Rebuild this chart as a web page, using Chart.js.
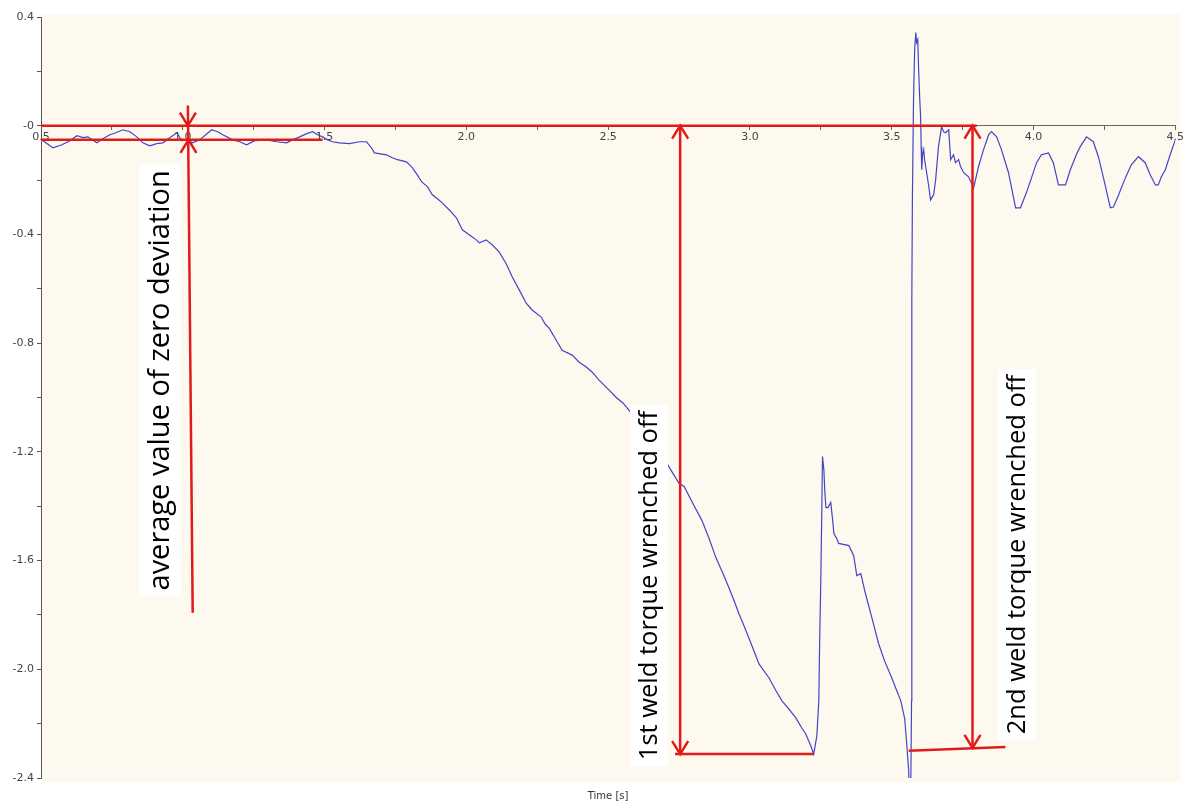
<!DOCTYPE html>
<html>
<head>
<meta charset="utf-8">
<title>Weld torque test</title>
<script src="https://cdn.jsdelivr.net/npm/chart.js@4/dist/chart.umd.min.js"></script>
<style>
  body { margin: 0; background: #fff; }
  #wrap { width: 1185px; height: 805px; }
</style>
</head>
<body>
<div id="wrap"><canvas id="chart"></canvas></div>
<script>
// Torque trace (time in s)
const timeValues = [
  0.502, 0.542, 0.574, 0.602, 0.627, 0.648, 0.665, 0.697, 0.718, 0.743,
  0.764, 0.789, 0.813, 0.838, 0.859, 0.884, 0.908, 0.930, 0.954, 0.979,
  0.996, 1.014, 1.035, 1.060, 1.081, 1.102, 1.123, 1.141, 1.176, 1.201,
  1.225, 1.254, 1.296, 1.331, 1.366, 1.387, 1.412, 1.437, 1.458, 1.475,
  1.493, 1.511, 1.528, 1.553, 1.588, 1.623, 1.648, 1.665, 1.676, 1.718,
  1.739, 1.757, 1.789, 1.810, 1.827, 1.842, 1.863, 1.880, 1.898, 1.915,
  1.940, 1.965, 1.986, 2.011, 2.035, 2.046, 2.070, 2.092, 2.116, 2.141,
  2.162, 2.187, 2.211, 2.232, 2.264, 2.278, 2.292, 2.313, 2.338, 2.373,
  2.398, 2.423, 2.444, 2.468, 2.493, 2.528, 2.553, 2.574, 2.609, 2.644,
  2.687, 2.722, 2.750, 2.768, 2.799, 2.831, 2.856, 2.880, 2.905, 2.926,
  2.944, 2.961, 2.979, 2.996, 3.014, 3.032, 3.067, 3.092, 3.113, 3.137,
  3.162, 3.183, 3.197, 3.215, 3.225, 3.236, 3.243, 3.246, 3.250, 3.254,
  3.256, 3.261, 3.264, 3.268, 3.275, 3.285, 3.292, 3.296, 3.306, 3.313,
  3.349, 3.366, 3.377, 3.391, 3.405, 3.430, 3.454, 3.475, 3.500, 3.518,
  3.532, 3.546, 3.553, 3.560, 3.562, 3.567, 3.570, 3.571, 3.573, 3.577,
  3.581, 3.585, 3.588, 3.592, 3.595, 3.599, 3.602, 3.604, 3.606, 3.609,
  3.613, 3.616, 3.620, 3.630, 3.637, 3.648, 3.655, 3.665, 3.676, 3.683,
  3.690, 3.701, 3.708, 3.718, 3.725, 3.736, 3.743, 3.754, 3.771, 3.789,
  3.806, 3.824, 3.842, 3.852, 3.870, 3.887, 3.912, 3.937, 3.954, 3.975,
  3.993, 4.011, 4.028, 4.053, 4.070, 4.088, 4.113, 4.130, 4.151, 4.165,
  4.187, 4.211, 4.229, 4.250, 4.271, 4.282, 4.299, 4.324, 4.345, 4.370,
  4.394, 4.412, 4.430, 4.440, 4.451, 4.465, 4.482, 4.500
];
const torqueValues = [
  -0.052, -0.081, -0.070, -0.055, -0.037, -0.044, -0.041, -0.063, -0.048, -0.033,
  -0.026, -0.015, -0.022, -0.041, -0.063, -0.074, -0.066, -0.063, -0.044, -0.026,
  -0.055, -0.052, -0.063, -0.052, -0.033, -0.015, -0.022, -0.033, -0.052, -0.059,
  -0.070, -0.055, -0.052, -0.059, -0.063, -0.052, -0.041, -0.029, -0.022, -0.033,
  -0.041, -0.052, -0.059, -0.063, -0.066, -0.059, -0.059, -0.081, -0.100, -0.107,
  -0.118, -0.125, -0.133, -0.155, -0.181, -0.206, -0.225, -0.254, -0.269, -0.284,
  -0.310, -0.339, -0.383, -0.402, -0.420, -0.431, -0.420, -0.439, -0.465, -0.509,
  -0.557, -0.605, -0.653, -0.678, -0.704, -0.730, -0.745, -0.782, -0.826, -0.844,
  -0.870, -0.888, -0.907, -0.936, -0.962, -0.999, -1.021, -1.047, -1.102, -1.158,
  -1.206, -1.268, -1.316, -1.327, -1.390, -1.453, -1.519, -1.589, -1.648, -1.700,
  -1.747, -1.795, -1.840, -1.884, -1.932, -1.980, -2.031, -2.079, -2.116, -2.146,
  -2.179, -2.216, -2.238, -2.282, -2.312, -2.245, -2.116, -1.895, -1.674, -1.379,
  -1.217, -1.268, -1.342, -1.405, -1.405, -1.386, -1.453, -1.500, -1.519, -1.537,
  -1.545, -1.582, -1.655, -1.648, -1.711, -1.810, -1.906, -1.969, -2.031, -2.079,
  -2.116, -2.182, -2.275, -2.374, -2.485, -2.485, -2.116, -0.641, -0.273, 0.096,
  0.280, 0.343, 0.306, 0.317, 0.206, 0.096, 0.033, -0.077, -0.162, -0.107,
  -0.088, -0.125, -0.151, -0.218, -0.273, -0.254, -0.199, -0.077, -0.004, -0.022,
  -0.026, -0.015, -0.125, -0.107, -0.136, -0.125, -0.151, -0.173, -0.188, -0.229,
  -0.151, -0.088, -0.033, -0.022, -0.041, -0.088, -0.173, -0.302, -0.302, -0.247,
  -0.192, -0.136, -0.107, -0.100, -0.136, -0.218, -0.218, -0.162, -0.107, -0.077,
  -0.041, -0.059, -0.114, -0.206, -0.302, -0.299, -0.258, -0.192, -0.144, -0.114,
  -0.136, -0.181, -0.218, -0.218, -0.188, -0.162, -0.107, -0.052
];

// tick labels, major ticks only (minor ticks get no text)
const xTickLabels = ['0.5', '1.0', '1.5', '2.0', '2.5', '3.0', '3.5', '4.0', '4.5'];
const yTickLabels = ['-2.4', '-2.0', '-1.6', '-1.2', '-0.8', '-0.4', '-0', '0.4'];

// red markup, in data units: [t1, v1, t2, v2]
const markupLines = [
  [0.5, 0, 3.80, 0],
  [0.5, -0.052, 1.493, -0.052],
  [1.018, 0.074, 1.035, -1.792],
  [2.754, 0, 2.754, -2.312],
  [2.736, -2.312, 3.225, -2.312],
  [3.785, 0, 3.785, -2.289],
  [3.560, -2.300, 3.901, -2.286]
];
// arrow tips: [t, v, direction]
const markupArrows = [
  [1.018, 0, 'down'],
  [1.020, -0.052, 'up'],
  [2.754, 0, 'up'],
  [2.754, -2.312, 'down'],
  [3.785, 0, 'up'],
  [3.785, -2.289, 'down']
];
// rotated notes, centred on [t, v]
const noteTexts = ['average value of zero deviation', '1st weld torque wrenched off', '2nd weld torque wrenched off'];
const noteTimes = [0.919, 2.644, 3.940];
const noteTorques = [-0.937, -1.692, -1.578];

const RED = '#e21a1a';
const noteFontSizes = [29, 25.5, 25.5];
const noteBoxDepth = [42, 38, 38];

const plotBackground = {
    id: 'plotBackground',
    beforeDraw(chart) {
        const { ctx, chartArea } = chart;
        ctx.save();
        ctx.fillStyle = '#fdf9ee';
        ctx.fillRect(chartArea.left + 1, chartArea.top - 3,
            chartArea.right - chartArea.left + 4, chartArea.bottom - chartArea.top + 7);
        ctx.restore();
    }
};

const markup = {
    id: 'markup',
    afterDatasetsDraw(chart) {
        const { ctx } = chart;
        const xs = chart.scales.x;
        const ys = chart.scales.y;
        ctx.save();
        ctx.strokeStyle = RED;
        ctx.lineWidth = 2.5;
        ctx.lineCap = 'butt';

        markupLines.forEach(([t1, v1, t2, v2]) => {
            ctx.beginPath();
            ctx.moveTo(xs.getPixelForValue(t1), ys.getPixelForValue(v1));
            ctx.lineTo(xs.getPixelForValue(t2), ys.getPixelForValue(v2));
            ctx.stroke();
        });

        markupArrows.forEach(([t, v, dir]) => {
            const px = xs.getPixelForValue(t);
            const py = ys.getPixelForValue(v);
            const back = dir === 'down' ? -13 : 13;
            ctx.beginPath();
            ctx.moveTo(px - 8, py + back);
            ctx.lineTo(px, py);
            ctx.lineTo(px + 8, py + back);
            ctx.stroke();
        });

        ctx.textAlign = 'center';
        ctx.textBaseline = 'middle';
        noteTexts.forEach((text, i) => {
            const cx = xs.getPixelForValue(noteTimes[i]);
            const cy = ys.getPixelForValue(noteTorques[i]);
            ctx.font = noteFontSizes[i] + 'px "Open Sans"';
            const w = ctx.measureText(text).width;
            const d = noteBoxDepth[i];
            ctx.save();
            ctx.translate(cx, cy);
            ctx.rotate(-Math.PI / 2);
            ctx.fillStyle = '#ffffff';
            ctx.fillRect(-w / 2 - 6, -d / 2, w + 12, d);
            ctx.fillStyle = '#000';
            ctx.fillText(text, 0, 1);
            ctx.restore();
        });
        ctx.restore();
    }
};

const chart = new Chart(document.getElementById('chart'), {
    type: 'line',
    data: {
        datasets: [{
            label: 'Torque',
            data: timeValues.map((t, i) => ({ x: t, y: torqueValues[i] })),
            borderColor: '#4444c6',
            borderWidth: 1.2,
            pointRadius: 0,
            tension: 0,
            fill: false
        }]
    },
    options: {
        responsive: true,
        maintainAspectRatio: false,
        animation: false,
        layout: { padding: { top: 17, right: 8, left: 0, bottom: 0 } },
        plugins: {
            legend: { display: false },
            tooltip: { enabled: false },
            title: {
                display: true,
                position: 'bottom',
                text: 'Time [s]',
                fullSize: false,
                color: '#333',
                font: { family: 'DejaVu Sans', size: 10, weight: 'normal' },
                padding: { top: 12, bottom: 3 }
            }
        },
        scales: {
            x: {
                type: 'linear',
                position: { y: 0 },
                min: 0.5,
                max: 4.5,
                border: { color: '#666', width: 1 },
                grid: { drawOnChartArea: false, drawTicks: true, tickLength: 4, color: '#666' },
                ticks: {
                    stepSize: 0.25,
                    autoSkip: false,
                    maxRotation: 0,
                    padding: 1,
                    color: '#444',
                    font: { family: 'DejaVu Sans', size: 11 },
                    callback: (value, index) => index % 2 === 0 ? xTickLabels[index / 2] : ''
                }
            },
            y: {
                type: 'linear',
                min: -2.4,
                max: 0.4,
                border: { color: '#555', width: 1 },
                grid: { drawOnChartArea: false, drawTicks: true, tickLength: 4, color: '#555' },
                ticks: {
                    stepSize: 0.2,
                    autoSkip: false,
                    padding: 3,
                    color: '#444',
                    font: { family: 'DejaVu Sans', size: 11 },
                    callback: (value, index) => index % 2 === 0 ? yTickLabels[index / 2] : ''
                },
                afterFit(scale) {
                    scale.width = 41;
                }
            }
        }
    },
    plugins: [plotBackground, markup]
});
</script>
</body>
</html>
